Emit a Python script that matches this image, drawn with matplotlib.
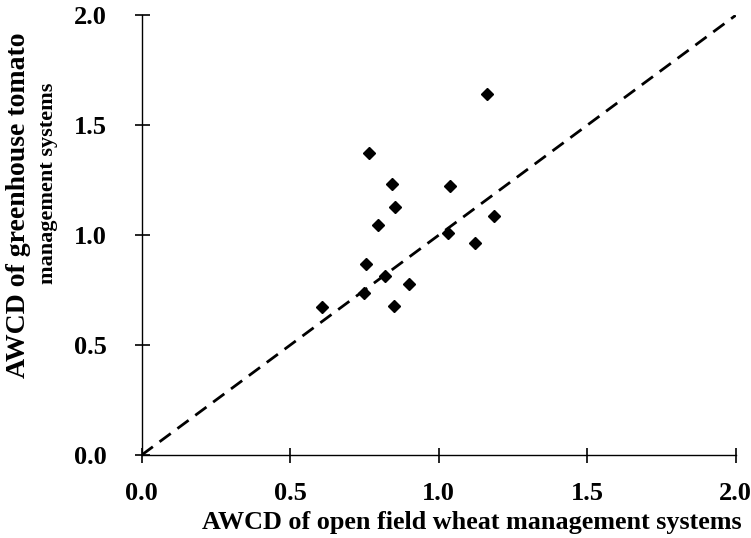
import matplotlib
matplotlib.use("Agg")
import matplotlib.pyplot as plt

# AWCD values of paired management systems
awcd_wheat = [1.164, 0.765, 0.843, 1.037, 0.852, 0.797, 1.187, 1.031,
              1.122, 0.754, 0.819, 0.748, 0.900, 0.607, 0.850]
awcd_tomato = [1.641, 1.375, 1.234, 1.225, 1.127, 1.044, 1.088, 1.009,
               0.963, 0.867, 0.816, 0.738, 0.777, 0.673, 0.676]
ref_line = [0.0, 2.0]
ticks = [0.0, 0.5, 1.0, 1.5, 2.0]
tick_labels = ["0.0", "0.5", "1.0", "1.5", "2.0"]

FONT = "Liberation Serif"

fig = plt.figure(figsize=(7.51, 5.38), dpi=100)
ax = fig.add_axes([141.7 / 751, 1 - 455 / 538, 594 / 751, 439.7 / 538])

ax.plot(ref_line, ref_line, color="black", lw=2.0, ls=(0, (5, 3)),
        dash_capstyle="butt", zorder=2)
ax.plot(awcd_wheat, awcd_tomato, ls="none", marker="D", ms=6.5,
        color="black", zorder=3)

ax.set_xlim(0, 2.0)
ax.set_ylim(0, 2.0)
ax.set_xticks(ticks)
ax.set_yticks(ticks)
ax.set_xticklabels(tick_labels, fontfamily=FONT, fontsize=19, fontweight="bold")
ax.set_yticklabels(tick_labels, fontfamily=FONT, fontsize=19, fontweight="bold")

for s in ("top", "right"):
    ax.spines[s].set_visible(False)
for s in ("left", "bottom"):
    ax.spines[s].set_linewidth(1.0)
    ax.spines[s].set_clip_on(False)

ax.tick_params(axis="x", direction="inout", length=10.8, width=1.2, pad=14)
ax.tick_params(axis="y", direction="inout", length=10.8, width=1.2, pad=20)

ax.set_xlabel("AWCD of open field wheat management systems",
              fontfamily=FONT, fontsize=18.8, fontweight="bold")
ax.xaxis.set_label_coords((472 - 141.7) / 594, (455 - 522) / 439.7)
ax.xaxis.label.set_va("center")

fig.text(19 / 751, 1 - 205 / 538, "AWCD of greenhouse tomato",
         rotation=90, ha="center", va="center",
         fontfamily=FONT, fontsize=20, fontweight="bold")
fig.text(48 / 751, 1 - 183 / 538, "management systems",
         rotation=90, ha="center", va="center",
         fontfamily=FONT, fontsize=16, fontweight="bold")

fig.savefig("out.png", dpi=100)
